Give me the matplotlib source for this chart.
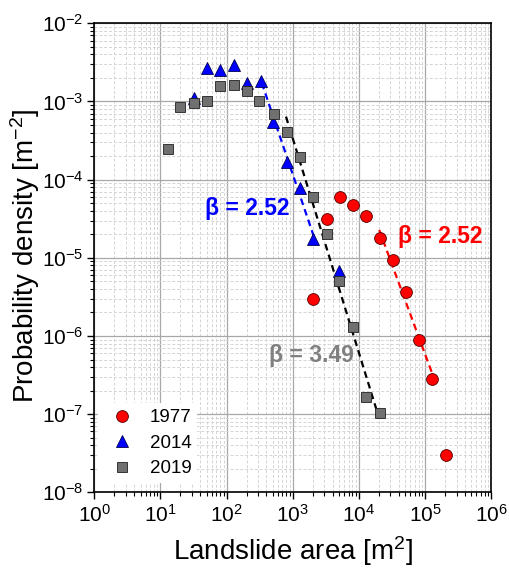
import numpy as np
import matplotlib
matplotlib.use("Agg")
import matplotlib.pyplot as plt

plt.rcParams['font.family'] = ['Liberation Sans', 'DejaVu Sans']
plt.rcParams['mathtext.fontset'] = 'custom'
plt.rcParams['mathtext.rm'] = 'Liberation Sans'
plt.rcParams['mathtext.it'] = 'Liberation Sans:italic'
plt.rcParams['mathtext.bf'] = 'Liberation Sans:bold'

# 1977 inventory
area_1977 = [2040, 3260, 5180, 8130, 1.28e4, 2.07e4, 3.28e4, 5.1e4, 8.2e4, 1.27e5, 2.05e5]
pd_1977 = [2.97e-6, 3.16e-5, 6.05e-5, 4.8e-5, 3.43e-5, 1.79e-5, 9.3e-6, 3.6e-6, 8.9e-7, 2.85e-7, 2.97e-8]

# 2014 inventory
area_2014 = [32, 51, 80, 129, 203, 327, 508, 819, 1288, 2024, 5000]
pd_2014 = [1.1e-3, 2.65e-3, 2.5e-3, 2.93e-3, 1.74e-3, 1.83e-3, 5.4e-4, 1.7e-4, 7.9e-5, 1.73e-5, 6.8e-6]

# 2019 inventory
area_2019 = [12.9, 20, 32.5, 51, 80, 129, 203, 309, 515, 819, 1288, 2024, 3260, 5000, 8230, 1.29e4, 2.07e4]
pd_2019 = [2.47e-4, 8.5e-4, 9.5e-4, 1.02e-3, 1.58e-3, 1.64e-3, 1.37e-3, 1.01e-3, 6.9e-4, 4.05e-4,
           1.93e-4, 6.0e-5, 2.02e-5, 5.05e-6, 1.3e-6, 1.66e-7, 1.02e-7]

# power-law fit segments (end points)
fit_1977_x = [2.03e4, 1.31e5]
fit_1977_y = [2.27e-5, 3.17e-7]
fit_2014_x = [340, 2095]
fit_2014_y = [1.73e-3, 1.85e-5]
fit_2019_x = [791, 2.03e4]
fit_2019_y = [6.4e-4, 8.8e-8]

fig = plt.figure(figsize=(5.1, 5.7), dpi=100)
ax = fig.add_axes([0.185, 0.1363, 0.778, 0.8228])

ax.set_xscale('log')
ax.set_yscale('log')
ax.set_xlim(1, 1e6)
ax.set_ylim(1e-8, 1e-2)

ax.grid(True, which='major', color='#a8a8a8', linewidth=0.9, linestyle='-')
ax.grid(True, which='minor', color='#d4d4d4', linewidth=0.7, linestyle=(0, (3, 2)))
ax.set_axisbelow(True)

dash = (0, (3, 2))
ax.plot(fit_2014_x, fit_2014_y, color='blue', linestyle=dash, linewidth=1.6, zorder=2)
ax.plot(fit_2019_x, fit_2019_y, color='black', linestyle=dash, linewidth=1.6, zorder=2)
ax.plot(fit_1977_x, fit_1977_y, color='red', linestyle=dash, linewidth=1.6, zorder=2)

ax.plot(area_1977, pd_1977, 'o', color='red', markeredgecolor='#500000', markeredgewidth=0.6,
        markersize=8.5, linestyle='none', label='1977', zorder=3)
ax.plot(area_2014, pd_2014, '^', color='blue', markeredgecolor='#000050', markeredgewidth=0.6,
        markersize=9, linestyle='none', label='2014', zorder=3)
ax.plot(area_2019, pd_2019, 's', color='#707070', markeredgecolor='#202020', markeredgewidth=0.6,
        markersize=7, linestyle='none', label='2019', zorder=3)

ax.text(203, 4.33e-5, '\u03b2 = 2.52', color='blue', fontsize=16.5, fontweight='bold', ha='center', va='center')
ax.text(1.71e5, 1.86e-5, '\u03b2 = 2.52', color='red', fontsize=16.5, fontweight='bold', ha='center', va='center')
ax.text(1920, 5.7e-7, '\u03b2 = 3.49', color='gray', fontsize=16.5, fontweight='bold', ha='center', va='center')

ax.tick_params(which='both', direction='out', top=False, right=False, labelsize=15)
ax.tick_params(which='major', length=5, width=1, pad=3)
ax.tick_params(which='minor', length=3, width=0.8)
for s in ax.spines.values():
    s.set_linewidth(1.2)

ax.set_xlabel('Landslide area [m$^2$]', fontsize=20)
ax.set_ylabel('Probability density [m$^{-2}$]', fontsize=20)
ax.xaxis.set_label_coords(0.5, -0.125)
ax.xaxis.label.set_va('center')
ax.yaxis.set_label_coords(-0.175, 0.505)
ax.yaxis.label.set_va('center')

leg = ax.legend(loc='lower left', bbox_to_anchor=(0.008, 0.02), borderaxespad=0, fontsize=13.5,
                frameon=True, framealpha=1, edgecolor='none', fancybox=False,
                handletextpad=0.5, handlelength=2.0, borderpad=0.3, labelspacing=0.45)

fig.savefig('out.png', dpi=100)
